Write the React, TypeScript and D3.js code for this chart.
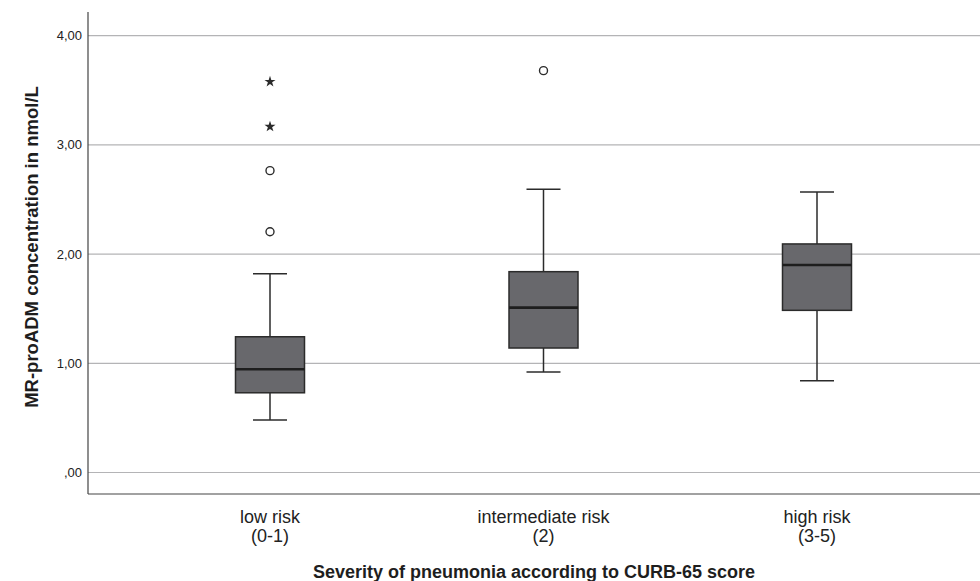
import React from "react";
import * as d3 from "d3";

// CURB-65 risk groups
const categories = ["low risk|(0-1)", "intermediate risk|(2)", "high risk|(3-5)"];
const whiskerLow = [0.48, 0.92, 0.84];
const q1 = [0.73, 1.14, 1.485];
const median = [0.945, 1.51, 1.9];
const q3 = [1.243, 1.839, 2.093];
const whiskerHigh = [1.82, 2.593, 2.569];
// outliers (circles) and extreme values (stars), per group
const outliers: number[][] = [[2.764, 2.205], [3.68], []];
const extremes: number[][] = [[3.579, 3.167], [], []];
const yTicks = [0, 1, 2, 3, 4];

const W = 980;
const H = 581;
const axisLeft = 88;
const axisBottom = 494;
const axisTop = 12;

export default function App() {
  const y = d3.scaleLinear().domain([0, 4]).range([472.5, 35.7]);
  const x = d3.scalePoint<string>().domain(categories).range([270, 817]);
  const boxW = 69;
  const capW = 34;
  const fmt = (v: number) => (v === 0 ? ",00" : d3.format(".2f")(v).replace(".", ","));
  const star = d3.symbol().type(d3.symbolStar).size(38)() as string;
  const font = "'Liberation Sans', Arial, Helvetica, sans-serif";

  return (
    <svg
      width={W}
      height={H}
      style={{ position: "absolute", left: 0, top: 0, background: "#fff" }}
      fontFamily={font}
    >
      {/* gridlines */}
      {yTicks.map((t) => (
        <line key={t} x1={axisLeft} x2={W} y1={y(t)} y2={y(t)} stroke="#b4b4b6" strokeWidth={1.2} />
      ))}
      {/* tick labels */}
      {yTicks.map((t) => (
        <text key={"l" + t} x={82} y={y(t) + 4.5} textAnchor="end" fontSize={13} fill="#222">
          {fmt(t)}
        </text>
      ))}
      {/* axes */}
      <line x1={axisLeft} x2={axisLeft} y1={axisTop} y2={axisBottom} stroke="#444" strokeWidth={1.2} />
      <line x1={axisLeft} x2={W} y1={axisBottom} y2={axisBottom} stroke="#444" strokeWidth={1.2} />

      {categories.map((c, i) => {
        const cx = x(c) as number;
        return (
          <g key={c}>
            <line x1={cx} x2={cx} y1={y(whiskerHigh[i])} y2={y(q3[i])} stroke="#2b2b2b" strokeWidth={1.5} />
            <line x1={cx} x2={cx} y1={y(q1[i])} y2={y(whiskerLow[i])} stroke="#2b2b2b" strokeWidth={1.5} />
            <line x1={cx - capW / 2} x2={cx + capW / 2} y1={y(whiskerHigh[i])} y2={y(whiskerHigh[i])} stroke="#2b2b2b" strokeWidth={1.5} />
            <line x1={cx - capW / 2} x2={cx + capW / 2} y1={y(whiskerLow[i])} y2={y(whiskerLow[i])} stroke="#2b2b2b" strokeWidth={1.5} />
            <rect
              x={cx - boxW / 2}
              y={y(q3[i])}
              width={boxW}
              height={y(q1[i]) - y(q3[i])}
              fill="#68686c"
              stroke="#2b2b2b"
              strokeWidth={1.5}
            />
            <line x1={cx - boxW / 2} x2={cx + boxW / 2} y1={y(median[i])} y2={y(median[i])} stroke="#1e1e1e" strokeWidth={2.6} />
            {outliers[i].map((v, k) => (
              <circle key={"o" + k} cx={cx} cy={y(v)} r={4} fill="#fff" stroke="#2b2b2b" strokeWidth={1.4} />
            ))}
            {extremes[i].map((v, k) => (
              <path key={"e" + k} d={star} transform={`translate(${cx},${y(v)})`} fill="#2b2b2b" />
            ))}
            {c.split("|").map((line, k) => (
              <text key={"t" + k} x={cx} y={523 + k * 19} textAnchor="middle" fontSize={18} fill="#222">
                {line}
              </text>
            ))}
          </g>
        );
      })}

      {/* axis titles */}
      <text x={534} y={578} textAnchor="middle" fontSize={18} fontWeight="bold" fill="#1e1e1e">
        Severity of pneumonia according to CURB-65 score
      </text>
      <text
        transform={`translate(37.5,247) rotate(-90)`}
        textAnchor="middle"
        fontSize={18.5}
        fontWeight="bold"
        fill="#1e1e1e"
      >
        MR-proADM concentration in nmol/L
      </text>
    </svg>
  );
}
